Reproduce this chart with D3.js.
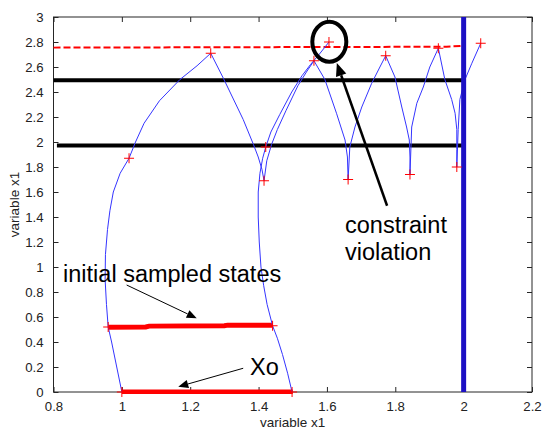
<!DOCTYPE html>
<html>
<head>
<meta charset="utf-8">
<script src="https://cdn.jsdelivr.net/npm/d3@7"></script>
<style>
  html, body { margin: 0; padding: 0; background: #fff; }
  svg { display: block; font-family: "Liberation Sans", Arial, sans-serif; }
</style>
</head>
<body>
<svg id="chart"></svg>
<script>
// axis ticks
const xTicks = [0.8, 1, 1.2, 1.4, 1.6, 1.8, 2, 2.2];
const yTicks = [0, 0.2, 0.4, 0.6, 0.8, 1, 1.2, 1.4, 1.6, 1.8, 2, 2.2, 2.4, 2.6, 2.8, 3];

// trajectory from x1 = 1
const trajA = [
  [1.0, 0], [0.985, 0.2], [0.97, 0.4], [0.96, 0.52], [0.955, 0.7], [0.951, 0.9],
  [0.952, 1.1], [0.958, 1.3], [0.965, 1.45], [0.975, 1.6], [0.995, 1.75], [1.021, 1.87],
  [1.04, 2.0], [1.065, 2.15], [1.11, 2.33], [1.17, 2.5], [1.22, 2.61], [1.26, 2.71],
  [1.297, 2.51], [1.355, 2.18], [1.385, 1.98], [1.399, 1.88], [1.41, 1.78], [1.416, 1.69],
  [1.424, 1.85], [1.438, 1.98], [1.455, 2.1], [1.48, 2.25], [1.515, 2.45], [1.54, 2.56], [1.562, 2.65],
  [1.594, 2.5], [1.628, 2.23], [1.653, 2.016], [1.66, 1.88], [1.662, 1.70],
  [1.667, 1.96], [1.682, 2.12], [1.702, 2.28], [1.731, 2.47], [1.755, 2.6], [1.772, 2.69],
  [1.799, 2.52], [1.819, 2.28], [1.833, 2.12], [1.841, 2.016], [1.843, 1.88], [1.843, 1.74],
  [1.848, 2.12], [1.863, 2.31], [1.882, 2.44], [1.901, 2.6], [1.926, 2.75],
  [1.945, 2.5], [1.965, 2.34], [1.975, 2.23], [1.98, 2.1], [1.98, 1.94], [1.98, 1.8],
  [1.984, 2.1], [1.989, 2.34], [2.004, 2.5], [2.024, 2.63], [2.05, 2.79]
];
const markersA = [
  [1.0, 0], [0.96, 0.52], [1.021, 1.87], [1.26, 2.71], [1.416, 1.69], [1.562, 2.65],
  [1.662, 1.70], [1.772, 2.69], [1.843, 1.74], [1.926, 2.75], [1.98, 1.8], [2.05, 2.79]
];

// trajectory from x1 = 1.5
const trajB = [
  [1.498, 0], [1.485, 0.15], [1.47, 0.3], [1.455, 0.43], [1.441, 0.53], [1.425, 0.7],
  [1.415, 0.85], [1.407, 1.0], [1.402, 1.2], [1.399, 1.4], [1.399, 1.6], [1.404, 1.75],
  [1.412, 1.87], [1.421, 1.96], [1.436, 2.08], [1.462, 2.22], [1.497, 2.4], [1.527, 2.53],
  [1.552, 2.62], [1.577, 2.7], [1.606, 2.8]
];
const markersB = [[1.498, 0], [1.441, 0.53], [1.421, 1.96], [1.606, 2.8]];

// constraints
const dashedLimit = [[0.8, 2.755], [1.95, 2.762], [2.0, 2.77]];
const upperBar = [[0.8, 2.495], [2.0, 2.495]];
const lowerBar = [[0.81, 1.973], [2.0, 1.973]];
const verticalLimit = [[2.0, 0], [2.0, 3]];

// initial sets
const xoSet = [[1.0, 0.003], [1.5, 0.003]];
const sampledSet = [[0.96, 0.518], [1.07, 0.52], [1.08, 0.527], [1.3, 0.53], [1.31, 0.535], [1.44, 0.535]];

// annotations
const circleAt = [1.607, 2.802];
const arrows = [
  { from: [1.776, 1.49], to: [1.629, 2.632], w: 2.5, head: 13 },
  { from: [1.014, 0.856], to: [1.219, 0.59], w: 1, head: 10 },
  { from: [1.355, 0.19], to: [1.165, 0.042], w: 1, head: 10 }
];
const labels = [
  { text: "initial sampled states", at: [0.828, 0.882] },
  { text: "constraint", at: [1.653, 1.27] },
  { text: "violation", at: [1.653, 1.056] },
  { text: "Xo", at: [1.375, 0.136] }
];

const width = 542, height = 431;
const margin = { left: 53.5, right: 10, top: 17, bottom: 39 };

const svg = d3.select("#chart").attr("width", width).attr("height", height);

const x = d3.scaleLinear().domain([0.8, 2.2]).range([margin.left, width - margin.right]);
const y = d3.scaleLinear().domain([0, 3]).range([height - margin.bottom, margin.top]);

const line = d3.line().x(d => x(d[0])).y(d => y(d[1]));

// box + ticks
const axisColor = "#262626";
svg.append("rect")
  .attr("x", x(0.8)).attr("y", y(3))
  .attr("width", x(2.2) - x(0.8)).attr("height", y(0) - y(3))
  .attr("fill", "none").attr("stroke", axisColor).attr("stroke-width", 1);

function styleAxis(g) {
  g.select(".domain").remove();
  g.selectAll(".tick line").attr("stroke", axisColor);
  g.selectAll(".tick text").attr("fill", "#222").attr("font-size", 13.2)
    .attr("font-family", "Liberation Sans, Arial, sans-serif");
}

svg.append("g").attr("transform", `translate(0,${y(0)})`)
  .call(d3.axisBottom(x).tickValues(xTicks).tickSize(-5).tickPadding(10).tickFormat(d3.format("~g")))
  .call(styleAxis);
svg.append("g").attr("transform", `translate(0,${y(3)})`)
  .call(d3.axisTop(x).tickValues(xTicks).tickSize(-5).tickFormat(""))
  .call(styleAxis);
svg.append("g").attr("transform", `translate(${x(0.8)},0)`)
  .call(d3.axisLeft(y).tickValues(yTicks).tickSize(-5).tickPadding(10).tickFormat(d3.format("~g")))
  .call(styleAxis);
svg.append("g").attr("transform", `translate(${x(2.2)},0)`)
  .call(d3.axisRight(y).tickValues(yTicks).tickSize(-5).tickFormat(""))
  .call(styleAxis);

svg.append("text")
  .attr("x", (x(0.8) + x(2.2)) / 2).attr("y", 427)
  .attr("text-anchor", "middle").attr("font-size", 13.5).attr("fill", "#222")
  .text("variable x1");
svg.append("text")
  .attr("transform", `translate(19,${(y(0) + y(3)) / 2}) rotate(-90)`)
  .attr("text-anchor", "middle").attr("font-size", 13.5).attr("fill", "#222")
  .text("variable x1");

// constraint lines
svg.append("path").datum(upperBar).attr("d", line)
  .attr("fill", "none").attr("stroke", "#000").attr("stroke-width", 4);
svg.append("path").datum(lowerBar).attr("d", line)
  .attr("fill", "none").attr("stroke", "#000").attr("stroke-width", 4);
svg.append("path").datum(dashedLimit).attr("d", line)
  .attr("fill", "none").attr("stroke", "#ff0000").attr("stroke-width", 2)
  .attr("stroke-dasharray", "7,3");

// initial sets
svg.append("path").datum(sampledSet).attr("d", line)
  .attr("fill", "none").attr("stroke", "#ff0000").attr("stroke-width", 5);
svg.append("path").datum(xoSet).attr("d", line)
  .attr("fill", "none").attr("stroke", "#ff0000").attr("stroke-width", 4.5);

// trajectories
[trajA, trajB].forEach(t => {
  svg.append("path").datum(t).attr("d", line)
    .attr("fill", "none").attr("stroke", "#3535ff").attr("stroke-width", 1);
});

// vertical limit
svg.append("path").datum(verticalLimit).attr("d", line)
  .attr("fill", "none").attr("stroke", "#1c10c4").attr("stroke-width", 5);

// plus markers
const plus = "M-5,0H5M0,-5V5";
svg.append("g").selectAll("path")
  .data(markersA.concat(markersB))
  .enter().append("path")
  .attr("transform", d => `translate(${x(d[0])},${y(d[1])})`)
  .attr("d", plus)
  .attr("stroke", "#ff0000").attr("stroke-width", 1).attr("fill", "none");

// violation circle
svg.append("ellipse")
  .attr("cx", x(circleAt[0])).attr("cy", y(circleAt[1]))
  .attr("rx", 17).attr("ry", 20)
  .attr("fill", "none").attr("stroke", "#000").attr("stroke-width", 4);

// arrows
arrows.forEach(a => {
  const x0 = x(a.from[0]), y0 = y(a.from[1]);
  const x1 = x(a.to[0]), y1 = y(a.to[1]);
  const ang = Math.atan2(y1 - y0, x1 - x0);
  const h = a.head, hw = h * 0.42;
  const bx = x1 - h * Math.cos(ang), by = y1 - h * Math.sin(ang);
  svg.append("line")
    .attr("x1", x0).attr("y1", y0).attr("x2", bx).attr("y2", by)
    .attr("stroke", "#000").attr("stroke-width", a.w);
  const pts = [
    [x1, y1],
    [bx + hw * Math.sin(ang), by - hw * Math.cos(ang)],
    [bx - hw * Math.sin(ang), by + hw * Math.cos(ang)]
  ];
  svg.append("polygon").attr("points", pts.map(p => p.join(",")).join(" "))
    .attr("fill", "#000");
});

// labels
svg.append("g").selectAll("text")
  .data(labels)
  .enter().append("text")
  .attr("x", d => x(d.at[0])).attr("y", d => y(d.at[1]))
  .attr("font-size", 23.5).attr("fill", "#000")
  .text(d => d.text);
</script>
</body>
</html>
